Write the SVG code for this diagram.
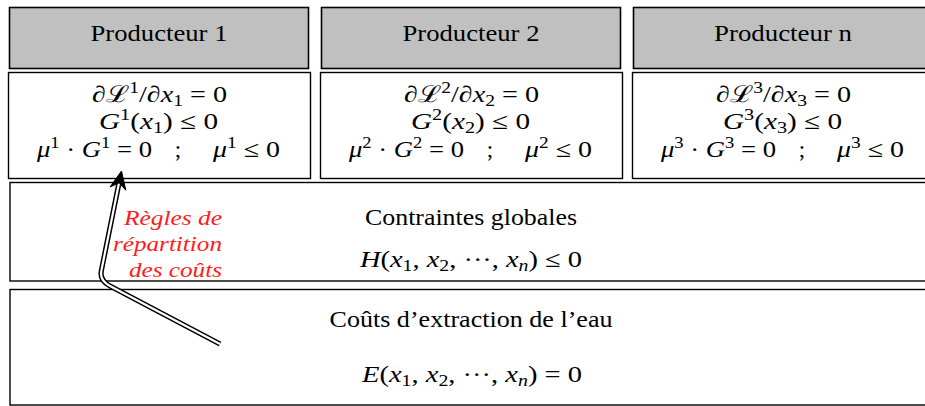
<svg xmlns="http://www.w3.org/2000/svg" width="925" height="406" viewBox="0 0 925 406" font-family="Liberation Serif, DejaVu Serif, serif">
<style>
text{font-family:Liberation Serif,DejaVu Serif,serif;font-size:23px;fill:#000}
.c{text-anchor:middle}
.i{font-style:italic}
.s{font-size:16px}
.hdr{fill:#c0c0c0;stroke:#000;stroke-width:1.6}
.box{fill:#fff;stroke:#000;stroke-width:1.4}
.red{fill:#ff1a1a;font-style:italic;font-size:21px;text-anchor:end}
</style>
<rect width="925" height="406" fill="#fff"/>
<g id="globales">
<rect class="box" x="10" y="182.5" width="930" height="98.5"/>
<text class="c" x="471" y="225" textLength="212" lengthAdjust="spacingAndGlyphs">Contraintes globales</text>
<text class="c" x="471" y="267" textLength="222" lengthAdjust="spacingAndGlyphs"><tspan class="i">H</tspan>(<tspan class="i">x</tspan><tspan class="s" dy="4">1</tspan><tspan dy="-4">, </tspan><tspan class="i">x</tspan><tspan class="s" dy="4">2</tspan><tspan dy="-4">, ···, </tspan><tspan class="i">x</tspan><tspan class="s i" dy="4">n</tspan><tspan dy="-4">) ≤ 0</tspan></text>
</g>
<g id="couts">
<rect class="box" x="10" y="289.5" width="930" height="115.5"/>
<text class="c" x="471" y="327" textLength="283" lengthAdjust="spacingAndGlyphs">Coûts d’extraction de l’eau</text>
<text class="c" x="472" y="382" textLength="220" lengthAdjust="spacingAndGlyphs"><tspan class="i">E</tspan>(<tspan class="i">x</tspan><tspan class="s" dy="4">1</tspan><tspan dy="-4">, </tspan><tspan class="i">x</tspan><tspan class="s" dy="4">2</tspan><tspan dy="-4">, ···, </tspan><tspan class="i">x</tspan><tspan class="s i" dy="4">n</tspan><tspan dy="-4">) = 0</tspan></text>
</g>
<g id="producteur1">
<rect class="hdr" x="9.5" y="7.5" width="299" height="61"/>
<text class="c" x="159" y="41" textLength="137" lengthAdjust="spacingAndGlyphs">Producteur 1</text>
<rect class="box" x="8.5" y="72.5" width="302" height="106"/>
<text class="c" x="159.5" y="102" textLength="135" lengthAdjust="spacingAndGlyphs">∂ℒ<tspan class="s" dy="-9">1</tspan><tspan dy="9">/∂</tspan><tspan class="i">x</tspan><tspan class="s" dy="4">1</tspan><tspan dy="-4"> = 0</tspan></text>
<text class="c" x="158.5" y="129" textLength="119" lengthAdjust="spacingAndGlyphs"><tspan class="i">G</tspan><tspan class="s" dy="-9">1</tspan><tspan dy="9">(</tspan><tspan class="i">x</tspan><tspan class="s" dy="4">1</tspan><tspan dy="-4">) ≤ 0</tspan></text>
<text x="37" y="157" textLength="115" lengthAdjust="spacingAndGlyphs"><tspan class="i">μ</tspan><tspan class="s" dy="-9">1</tspan><tspan dy="9"> · </tspan><tspan class="i">G</tspan><tspan class="s" dy="-9">1</tspan><tspan dy="9"> = 0</tspan></text>
<text class="c" x="178" y="157">;</text>
<text x="213" y="157" textLength="67" lengthAdjust="spacingAndGlyphs"><tspan class="i">μ</tspan><tspan class="s" dy="-9">1</tspan><tspan dy="9"> ≤ 0</tspan></text>
</g>
<g id="producteur2">
<rect class="hdr" x="321.5" y="7.5" width="299" height="61"/>
<text class="c" x="471" y="41" textLength="137" lengthAdjust="spacingAndGlyphs">Producteur 2</text>
<rect class="box" x="320.5" y="72.5" width="302" height="106"/>
<text class="c" x="471.5" y="102" textLength="135" lengthAdjust="spacingAndGlyphs">∂ℒ<tspan class="s" dy="-9">2</tspan><tspan dy="9">/∂</tspan><tspan class="i">x</tspan><tspan class="s" dy="4">2</tspan><tspan dy="-4"> = 0</tspan></text>
<text class="c" x="470.5" y="129" textLength="119" lengthAdjust="spacingAndGlyphs"><tspan class="i">G</tspan><tspan class="s" dy="-9">2</tspan><tspan dy="9">(</tspan><tspan class="i">x</tspan><tspan class="s" dy="4">2</tspan><tspan dy="-4">) ≤ 0</tspan></text>
<text x="349" y="157" textLength="115" lengthAdjust="spacingAndGlyphs"><tspan class="i">μ</tspan><tspan class="s" dy="-9">2</tspan><tspan dy="9"> · </tspan><tspan class="i">G</tspan><tspan class="s" dy="-9">2</tspan><tspan dy="9"> = 0</tspan></text>
<text class="c" x="490" y="157">;</text>
<text x="525" y="157" textLength="67" lengthAdjust="spacingAndGlyphs"><tspan class="i">μ</tspan><tspan class="s" dy="-9">2</tspan><tspan dy="9"> ≤ 0</tspan></text>
</g>
<g id="producteurn">
<rect class="hdr" x="633.5" y="7.5" width="299" height="61"/>
<text class="c" x="783" y="41" textLength="138" lengthAdjust="spacingAndGlyphs">Producteur n</text>
<rect class="box" x="632.5" y="72.5" width="302" height="106"/>
<text class="c" x="783.5" y="102" textLength="135" lengthAdjust="spacingAndGlyphs">∂ℒ<tspan class="s" dy="-9">3</tspan><tspan dy="9">/∂</tspan><tspan class="i">x</tspan><tspan class="s" dy="4">3</tspan><tspan dy="-4"> = 0</tspan></text>
<text class="c" x="782.5" y="129" textLength="119" lengthAdjust="spacingAndGlyphs"><tspan class="i">G</tspan><tspan class="s" dy="-9">3</tspan><tspan dy="9">(</tspan><tspan class="i">x</tspan><tspan class="s" dy="4">3</tspan><tspan dy="-4">) ≤ 0</tspan></text>
<text x="661" y="157" textLength="115" lengthAdjust="spacingAndGlyphs"><tspan class="i">μ</tspan><tspan class="s" dy="-9">3</tspan><tspan dy="9"> · </tspan><tspan class="i">G</tspan><tspan class="s" dy="-9">3</tspan><tspan dy="9"> = 0</tspan></text>
<text class="c" x="802" y="157">;</text>
<text x="837" y="157" textLength="67" lengthAdjust="spacingAndGlyphs"><tspan class="i">μ</tspan><tspan class="s" dy="-9">3</tspan><tspan dy="9"> ≤ 0</tspan></text>
</g>
<g id="connectors">
<path d="M220 344 L110 286 Q99 280 101.5 270 L119 183" fill="none" stroke="#000" stroke-width="5.2"/>
<path d="M220 344 L110 286 Q99 280 101.5 270 L119.6 180" fill="none" stroke="#fff" stroke-width="2.2"/>
<polygon points="121.5,171 125.8,190.2 119.1,182.8 110.1,187" fill="#000" stroke="#000" stroke-width="1" stroke-linejoin="round"/>
<text class="red" x="222" y="225" textLength="98" lengthAdjust="spacingAndGlyphs">Règles de</text>
<text class="red" x="222" y="251" textLength="109" lengthAdjust="spacingAndGlyphs">répartition</text>
<text class="red" x="222" y="277" textLength="93" lengthAdjust="spacingAndGlyphs">des coûts</text>
</g>
</svg>
